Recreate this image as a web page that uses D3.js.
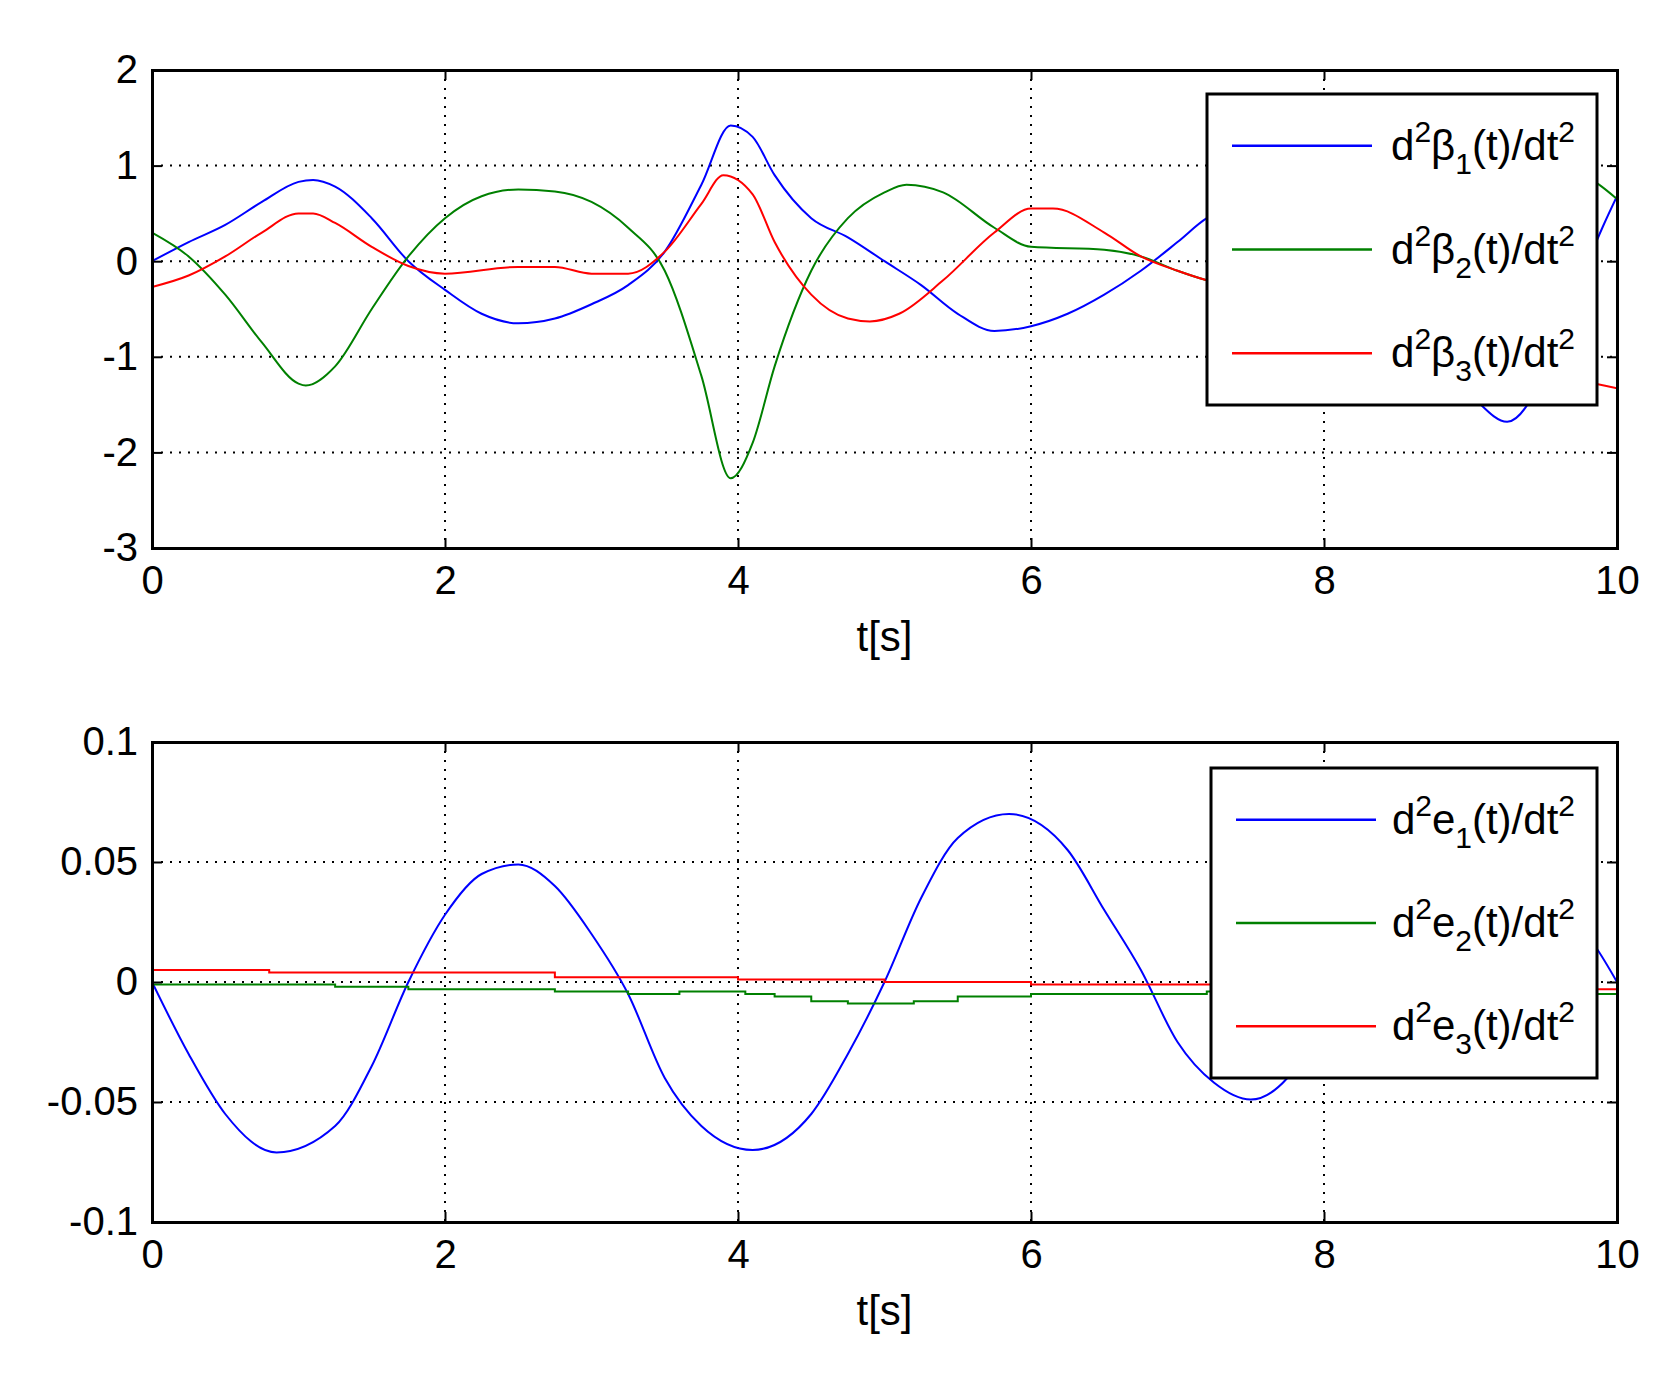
<!DOCTYPE html><html><head><script src="https://cdn.jsdelivr.net/npm/d3@7"></script>
<style>body{margin:0;background:#fff}text{font-family:"Liberation Sans",Arial,sans-serif}</style></head><body>
<svg id="c" width="1670" height="1382"></svg>
<script>
const xTicks=[0,2,4,6,8,10];
const topYTicks=[2,1,0,-1,-2,-3];
const botYTicks=[0.1,0.05,0,-0.05,-0.1];
const b1T=[0,0.25,0.5,0.75,1,1.1,1.25,1.5,1.75,2,2.25,2.5,2.75,3,3.25,3.5,3.75,3.95,4.1,4.25,4.5,4.75,5,5.25,5.5,5.75,6,6.25,6.5,6.75,7,7.2,7.5,8,8.5,9,9.25,9.5,9.75,9.9,10];
const b1V=[0,0.2,0.38,0.62,0.83,0.85,0.78,0.45,0,-0.3,-0.55,-0.65,-0.6,-0.45,-0.25,0.1,0.8,1.42,1.3,0.9,0.45,0.25,0,-0.25,-0.55,-0.73,-0.68,-0.55,-0.35,-0.1,0.2,0.45,0.6,0.3,-0.6,-1.4,-1.68,-1.2,-0.2,0.35,0.68];
const b2T=[0,0.25,0.5,0.75,1,1.05,1.25,1.5,1.75,2,2.25,2.5,2.75,3,3.25,3.5,3.75,3.95,4.1,4.25,4.5,4.75,5,5.15,5.4,5.75,6,6.5,6.75,7,7.2,7.5,8,8.5,9,9.5,9.75,10];
const b2V=[0.3,0.05,-0.35,-0.85,-1.28,-1.3,-1.1,-0.5,0.05,0.45,0.68,0.75,0.73,0.62,0.35,-0.1,-1.2,-2.27,-1.9,-1.1,-0.1,0.45,0.72,0.8,0.72,0.35,0.15,0.12,0.05,-0.1,-0.2,-0.3,-0.1,0.3,0.7,0.95,0.9,0.65];
const b3T=[0,0.25,0.5,0.75,1,1.1,1.25,1.5,1.75,2,2.5,2.75,3,3.25,3.5,3.75,3.9,4.1,4.25,4.5,4.75,4.9,5.1,5.4,5.75,6,6.15,6.5,6.75,7,7.2,7.5,8,8.5,9,9.5,9.75,10];
const b3V=[-0.27,-0.15,0.05,0.3,0.5,0.5,0.4,0.15,-0.05,-0.13,-0.06,-0.06,-0.13,-0.13,0.1,0.6,0.9,0.7,0.2,-0.35,-0.6,-0.63,-0.55,-0.2,0.3,0.55,0.55,0.3,0.05,-0.1,-0.2,-0.3,-0.5,-0.8,-1.1,-1.2,-1.25,-1.33];
const e1T=[0,0.25,0.5,0.85,1.25,1.5,1.75,2,2.25,2.5,2.75,3,3.25,3.5,3.75,4.1,4.5,4.75,5,5.25,5.5,5.85,6.25,6.5,6.75,7,7.25,7.5,7.75,8,8.5,9,9.5,9.85,10];
const e1V=[0,-0.03,-0.055,-0.071,-0.06,-0.035,0,0.028,0.045,0.049,0.04,0.02,-0.005,-0.04,-0.06,-0.07,-0.055,-0.03,0,0.035,0.06,0.07,0.055,0.03,0.005,-0.025,-0.042,-0.049,-0.04,-0.015,0.02,0.04,0.035,0.015,0];
const e2T=[0,1.25,1.75,2.75,3.25,3.6,4.05,4.25,4.5,4.75,5.2,5.5,6,7.2,8.5,10];
const e2V=[-0.001,-0.002,-0.003,-0.004,-0.005,-0.004,-0.005,-0.006,-0.008,-0.009,-0.008,-0.006,-0.005,-0.004,-0.005,-0.006];
const e3T=[0,0.8,2.75,4,5,6,7.2,8.5,10];
const e3V=[0.005,0.004,0.002,0.001,0,-0.001,-0.001,-0.003,-0.004];

const svg=d3.select("#c");
const L=152,R=1617;
function panel(top,bottom,ydom,yt,fmt,series,labels,leg,step){
  const x=d3.scaleLinear().domain([0,10]).range([L,R]);
  const y=d3.scaleLinear().domain(ydom).range([bottom,top]);
  const g=svg.append("g");
  xTicks.slice(1,-1).forEach(t=>g.append("line").attr("x1",x(t)).attr("x2",x(t)).attr("y1",top).attr("y2",bottom).attr("stroke","#000").attr("stroke-width",2).attr("stroke-dasharray","2,7"));
  yt.slice(1,-1).forEach(t=>g.append("line").attr("x1",L).attr("x2",R).attr("y1",y(t)).attr("y2",y(t)).attr("stroke","#000").attr("stroke-width",2).attr("stroke-dasharray","2,7"));
  const clip="cl"+top;
  svg.append("clipPath").attr("id",clip).append("rect").attr("x",L).attr("y",top).attr("width",R-L).attr("height",bottom-top);
  const cols=["#0000ff","#008000","#ff0000"];
  series.forEach((s,i)=>{
    const data=s[0].map((t,j)=>[t,s[1][j]]);
    const ln=d3.line().x(d=>x(d[0])).y(d=>y(d[1])).curve(step&&i>0?d3.curveStepAfter:d3.curveMonotoneX);
    g.append("path").attr("d",ln(data)).attr("fill","none").attr("stroke",cols[i]).attr("stroke-width",2).attr("clip-path",`url(#${clip})`);
  });
  const xa=g.append("g").attr("transform",`translate(0,${bottom})`).call(d3.axisBottom(x).tickValues(xTicks).tickSize(-10).tickPadding(18).tickFormat(d3.format("d")));
  const ya=g.append("g").attr("transform",`translate(${L},0)`).call(d3.axisLeft(y).tickValues(yt).tickSize(-10).tickPadding(14).tickFormat(fmt));
  const xb=g.append("g").attr("transform",`translate(0,${top})`).call(d3.axisTop(x).tickValues(xTicks).tickSize(-10).tickFormat(""));
  const yb=g.append("g").attr("transform",`translate(${R},0)`).call(d3.axisRight(y).tickValues(yt).tickSize(-10).tickFormat(""));
  [xa,ya,xb,yb].forEach(a=>{a.select(".domain").attr("stroke-width",3);a.selectAll("line").attr("stroke-width",2);a.selectAll("text").attr("font-size",40).attr("fill","#000");});
  g.append("text").attr("x",(L+R)/2).attr("y",bottom+103).attr("text-anchor","middle").attr("font-size",42).text("t[s]");
  g.append("rect").attr("x",leg[0]).attr("y",leg[1]).attr("width",leg[2]-leg[0]).attr("height",leg[3]-leg[1]).attr("fill","#fff").attr("stroke","#000").attr("stroke-width",3);
  const rowH=(leg[3]-leg[1])/3;
  labels.forEach((lb,i)=>{
    const cy=leg[1]+rowH*(i+0.5);
    g.append("line").attr("x1",leg[0]+25).attr("x2",leg[0]+165).attr("y1",cy).attr("y2",cy).attr("stroke",cols[i]).attr("stroke-width",2.5);
    const t=g.append("text").attr("x",leg[2]-22).attr("y",cy+14).attr("text-anchor","end").attr("font-size",42);
    t.append("tspan").text("d");
    t.append("tspan").attr("dy",-18).attr("font-size",30).text("2");
    t.append("tspan").attr("dy",18).text(lb);
    t.append("tspan").attr("dy",14).attr("font-size",30).text(String(i+1));
    t.append("tspan").attr("dy",-14).text("(t)/dt");
    t.append("tspan").attr("dy",-18).attr("font-size",30).text("2");
  });
}
const hy=f=>d=>f(d).replace("−","-");
panel(70,548,[-3,2],topYTicks,hy(d3.format("d")),[[b1T,b1V],[b2T,b2V],[b3T,b3V]],["β","β","β"],[1207,94,1597,405],false);
panel(742,1222,[-0.1,0.1],botYTicks,d=>d===0?"0":String(d),[[e1T,e1V],[e2T,e2V],[e3T,e3V]],["e","e","e"],[1211,768,1597,1078],true);
</script></body></html>
